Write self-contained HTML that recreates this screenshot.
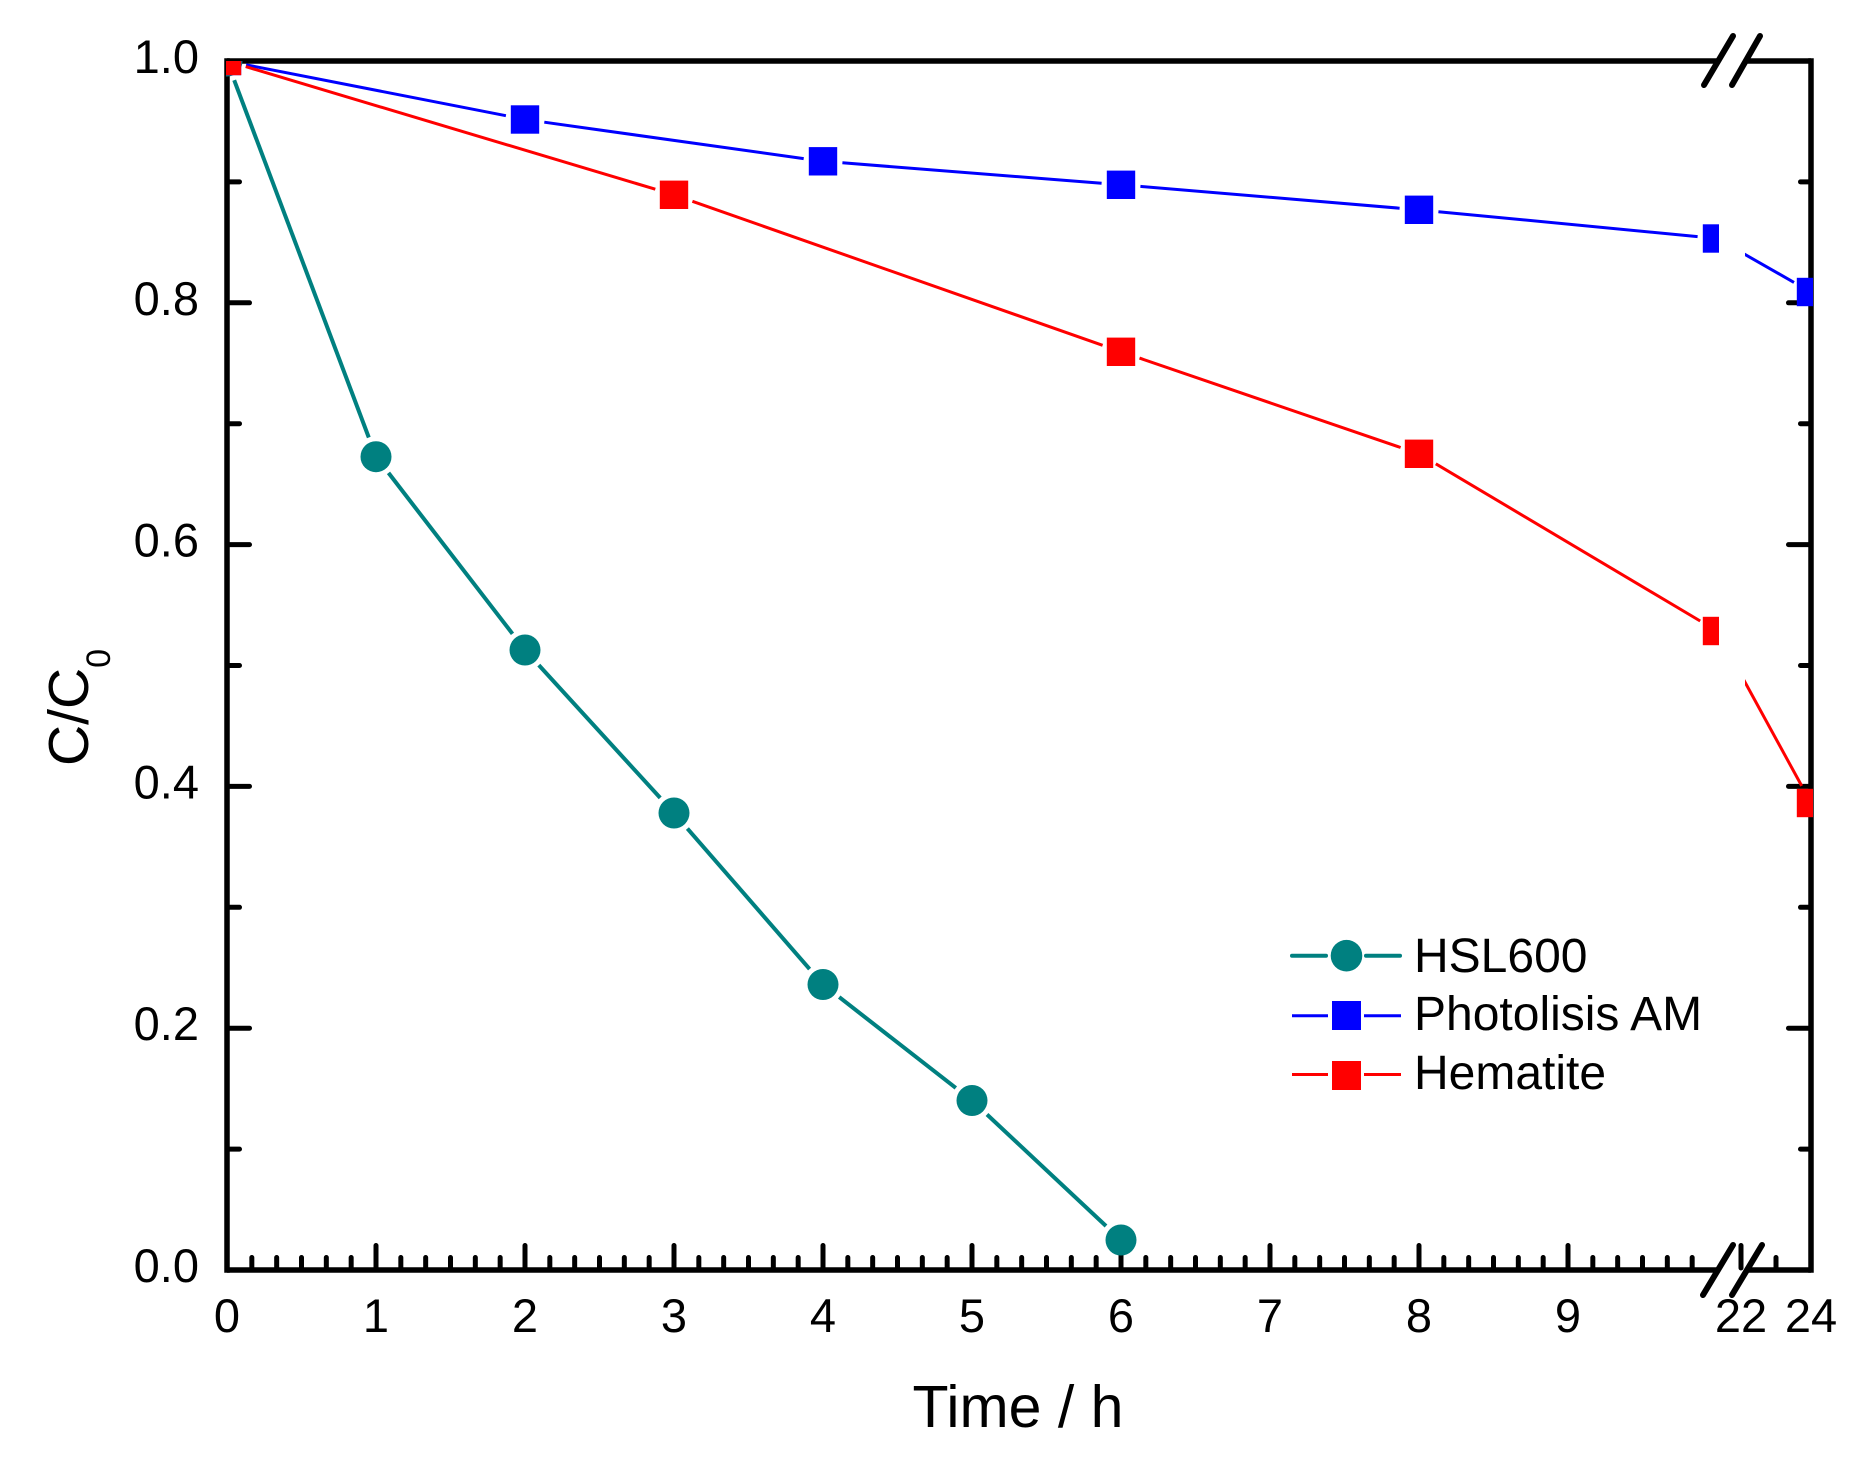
<!DOCTYPE html>
<html>
<head>
<meta charset="utf-8">
<style>
  html, body { margin:0; padding:0; background:#fff; }
  svg { display:block; }
  text { font-family: "Liberation Sans", Arial, sans-serif; fill:#000; }
</style>
</head>
<body>
<svg xmlns="http://www.w3.org/2000/svg" width="1853" height="1459" viewBox="0 0 1853 1459">
  <rect x="0" y="0" width="1853" height="1459" fill="#fff"/>
  <defs>
    <clipPath id="pc">
      <rect x="226" y="61" width="1493" height="1211"/>
      <rect x="1745" y="61" width="68" height="1211"/>
    </clipPath>
  </defs>

  <!-- Axis frame -->
  <g stroke="#000" stroke-width="5.5" fill="none" stroke-linecap="square">
    <line x1="227" y1="61" x2="227" y2="1270"/>
    <line x1="1811" y1="61" x2="1811" y2="1270"/>
    <line x1="227" y1="61" x2="1718" y2="61" stroke-linecap="butt"/>
    <line x1="1746" y1="61" x2="1811" y2="61" stroke-linecap="butt"/>
    <line x1="227" y1="1270" x2="1718" y2="1270" stroke-linecap="butt"/>
    <line x1="1746" y1="1270" x2="1811" y2="1270" stroke-linecap="butt"/>
  </g>

  <!-- Ticks -->
  <g stroke="#000" stroke-width="5" stroke-linecap="round" fill="none">
    <line x1="229" y1="1028.2" x2="249.5" y2="1028.2"/>
    <line x1="229" y1="786.4" x2="249.5" y2="786.4"/>
    <line x1="229" y1="544.6" x2="249.5" y2="544.6"/>
    <line x1="229" y1="302.8" x2="249.5" y2="302.8"/>
    <line x1="229" y1="1149.1" x2="239.5" y2="1149.1"/>
    <line x1="229" y1="907.3" x2="239.5" y2="907.3"/>
    <line x1="229" y1="665.5" x2="239.5" y2="665.5"/>
    <line x1="229" y1="423.7" x2="239.5" y2="423.7"/>
    <line x1="229" y1="181.9" x2="239.5" y2="181.9"/>
    <line x1="1809" y1="1028.2" x2="1788.5" y2="1028.2"/>
    <line x1="1809" y1="786.4" x2="1788.5" y2="786.4"/>
    <line x1="1809" y1="544.6" x2="1788.5" y2="544.6"/>
    <line x1="1809" y1="302.8" x2="1788.5" y2="302.8"/>
    <line x1="1809" y1="1149.1" x2="1800.5" y2="1149.1"/>
    <line x1="1809" y1="907.3" x2="1800.5" y2="907.3"/>
    <line x1="1809" y1="665.5" x2="1800.5" y2="665.5"/>
    <line x1="1809" y1="423.7" x2="1800.5" y2="423.7"/>
    <line x1="1809" y1="181.9" x2="1800.5" y2="181.9"/>
    <path d="M376 1268V1245.5 M525 1268V1245.5 M674 1268V1245.5 M823 1268V1245.5 M972 1268V1245.5 M1121 1268V1245.5 M1270 1268V1245.5 M1419 1268V1245.5 M1568 1268V1245.5 M1741 1268V1245.5"/>
    <path d="M251.83 1268V1257.5 M276.67 1268V1257.5 M301.5 1268V1257.5 M326.33 1268V1257.5 M351.17 1268V1257.5
             M400.83 1268V1257.5 M425.67 1268V1257.5 M450.5 1268V1257.5 M475.33 1268V1257.5 M500.17 1268V1257.5
             M549.83 1268V1257.5 M574.67 1268V1257.5 M599.5 1268V1257.5 M624.33 1268V1257.5 M649.17 1268V1257.5
             M698.83 1268V1257.5 M723.67 1268V1257.5 M748.5 1268V1257.5 M773.33 1268V1257.5 M798.17 1268V1257.5
             M847.83 1268V1257.5 M872.67 1268V1257.5 M897.5 1268V1257.5 M922.33 1268V1257.5 M947.17 1268V1257.5
             M996.83 1268V1257.5 M1021.67 1268V1257.5 M1046.5 1268V1257.5 M1071.33 1268V1257.5 M1096.17 1268V1257.5
             M1145.83 1268V1257.5 M1170.67 1268V1257.5 M1195.5 1268V1257.5 M1220.33 1268V1257.5 M1245.17 1268V1257.5
             M1294.83 1268V1257.5 M1319.67 1268V1257.5 M1344.5 1268V1257.5 M1369.33 1268V1257.5 M1394.17 1268V1257.5
             M1443.83 1268V1257.5 M1468.67 1268V1257.5 M1493.5 1268V1257.5 M1518.33 1268V1257.5 M1543.17 1268V1257.5
             M1592.83 1268V1257.5 M1617.67 1268V1257.5 M1642.5 1268V1257.5 M1667.33 1268V1257.5 M1692.17 1268V1257.5
             M1776 1268V1257.5"/>
  </g>

  <!-- Break marks -->
  <g stroke="#000" stroke-width="6" stroke-linecap="round">
    <line x1="1704" y1="85" x2="1733" y2="36"/>
    <line x1="1732" y1="85" x2="1760" y2="36"/>
    <line x1="1703" y1="1295" x2="1733" y2="1245"/>
    <line x1="1732" y1="1295" x2="1762" y2="1245"/>
  </g>

  <!-- Data -->
  <g clip-path="url(#pc)">
    <g stroke="#008080" stroke-width="4" fill="none">
      <line x1="234.2" y1="80.2" x2="368.8" y2="437.5"/>
      <line x1="388.5" y1="472.9" x2="512.5" y2="633.8"/>
      <line x1="538.8" y1="665.1" x2="660.2" y2="797.9"/>
      <line x1="687.4" y1="828.5" x2="809.6" y2="969.0"/>
      <line x1="839.2" y1="997.1" x2="955.8" y2="1087.9"/>
      <line x1="987.0" y1="1114.5" x2="1106.0" y2="1226.0"/>
    </g>
    <g fill="#008080">
      <circle cx="227" cy="61" r="15.5"/>
      <circle cx="376" cy="456.7" r="15.5"/>
      <circle cx="525" cy="650" r="15.5"/>
      <circle cx="674" cy="813" r="15.5"/>
      <circle cx="823" cy="984.5" r="15.5"/>
      <circle cx="972" cy="1100.5" r="15.5"/>
      <circle cx="1121" cy="1240" r="15.5"/>
    </g>
    <g stroke="#0000ff" stroke-width="3" fill="none">
      <line x1="246.1" y1="64.8" x2="505.9" y2="115.7"/>
      <line x1="544.3" y1="122.2" x2="803.7" y2="158.6"/>
      <line x1="842.4" y1="162.8" x2="1101.6" y2="183.3"/>
      <line x1="1140.4" y1="186.4" x2="1399.6" y2="208.2"/>
      <line x1="1438.4" y1="211.7" x2="1697.6" y2="236.6"/>
      <line x1="1734.0" y1="248.2" x2="1794.0" y2="282.4"/>
    </g>
    <g fill="#0000ff">
      <rect x="212.8" y="46.8" width="28.4" height="28.4"/>
      <rect x="510.8" y="105.3" width="28.4" height="28.4"/>
      <rect x="808.8" y="147.1" width="28.4" height="28.4"/>
      <rect x="1106.8" y="170.6" width="28.4" height="28.4"/>
      <rect x="1404.8" y="195.6" width="28.4" height="28.4"/>
      <rect x="1702.8" y="224.3" width="28.4" height="28.4"/>
      <rect x="1796.8" y="277.8" width="28.4" height="28.4"/>
    </g>
    <g stroke="#ff0000" stroke-width="3" fill="none">
      <line x1="245.7" y1="66.6" x2="655.3" y2="189.2"/>
      <line x1="692.4" y1="201.3" x2="1102.6" y2="345.3"/>
      <line x1="1139.5" y1="358.1" x2="1400.6" y2="447.5"/>
      <line x1="1435.8" y1="463.8" x2="1700.2" y2="621.0"/>
      <line x1="1726.4" y1="648.1" x2="1801.7" y2="785.9"/>
    </g>
    <g fill="#ff0000">
      <rect x="212.8" y="46.8" width="28.4" height="28.4"/>
      <rect x="659.8" y="180.6" width="28.4" height="28.4"/>
      <rect x="1106.8" y="337.6" width="28.4" height="28.4"/>
      <rect x="1404.8" y="439.6" width="28.4" height="28.4"/>
      <rect x="1702.8" y="616.8" width="28.4" height="28.4"/>
      <rect x="1796.8" y="788.8" width="28.4" height="28.4"/>
    </g>
  </g>

  <!-- Y tick labels -->
  <g font-size="47" text-anchor="end">
    <text x="199" y="1282">0.0</text>
    <text x="199" y="1040">0.2</text>
    <text x="199" y="798.4">0.4</text>
    <text x="199" y="556.6">0.6</text>
    <text x="199" y="314.8">0.8</text>
    <text x="199" y="73">1.0</text>
  </g>
  <!-- X tick labels -->
  <g font-size="47" text-anchor="middle">
    <text x="227" y="1332">0</text>
    <text x="376" y="1332">1</text>
    <text x="525" y="1332">2</text>
    <text x="674" y="1332">3</text>
    <text x="823" y="1332">4</text>
    <text x="972" y="1332">5</text>
    <text x="1121" y="1332">6</text>
    <text x="1270" y="1332">7</text>
    <text x="1419" y="1332">8</text>
    <text x="1568" y="1332">9</text>
    <text x="1741" y="1332">22</text>
    <text x="1811" y="1332">24</text>
  </g>

  <!-- Axis titles -->
  <text x="1018" y="1427" font-size="59" text-anchor="middle">Time / h</text>
  <text transform="translate(88,766) rotate(-90)" font-size="57">C/C<tspan font-size="34" dy="22">0</tspan></text>

  <!-- Legend -->
  <g>
    <line x1="1292" y1="955.7" x2="1326" y2="955.7" stroke="#008080" stroke-width="4" stroke-linecap="round"/>
    <line x1="1366" y1="955.7" x2="1400" y2="955.7" stroke="#008080" stroke-width="4" stroke-linecap="round"/>
    <circle cx="1346.5" cy="955.7" r="15.8" fill="#008080"/>
    <line x1="1292" y1="1015.7" x2="1328" y2="1015.7" stroke="#0000ff" stroke-width="3"/>
    <line x1="1364" y1="1015.7" x2="1401" y2="1015.7" stroke="#0000ff" stroke-width="3"/>
    <rect x="1332" y="1001" width="29" height="29" fill="#0000ff"/>
    <line x1="1292" y1="1074.5" x2="1328" y2="1074.5" stroke="#ff0000" stroke-width="3"/>
    <line x1="1364" y1="1074.5" x2="1401" y2="1074.5" stroke="#ff0000" stroke-width="3"/>
    <rect x="1332" y="1061" width="29" height="29" fill="#ff0000"/>
    <g font-size="48">
      <text x="1414" y="972">HSL600</text>
      <text x="1414" y="1030">Photolisis AM</text>
      <text x="1414" y="1089">Hematite</text>
    </g>
  </g>
</svg>
</body>
</html>
